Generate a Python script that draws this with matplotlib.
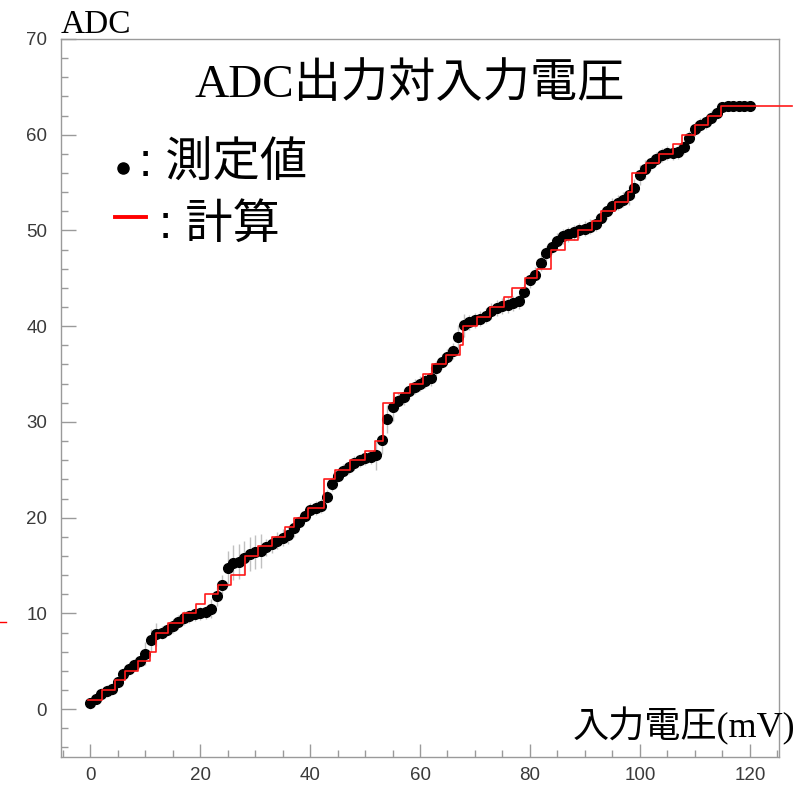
import matplotlib
matplotlib.use("Agg")
import matplotlib.pyplot as plt
import numpy as np
from matplotlib.ticker import MultipleLocator
from matplotlib.lines import Line2D

# measured points: input voltage (mV) and mean ADC code
volt = np.arange(0, 121)
adc_meas = [
    0.6, 1.1, 1.6, 1.9, 2.1, 2.8, 3.7, 4.2, 4.6, 5.0,
    5.8, 7.2, 7.8, 8.0, 8.3, 8.7, 9.1, 9.5, 9.7, 9.9,
    10.0, 10.1, 10.5, 11.8, 13.0, 14.7, 15.3, 15.4, 15.8, 16.2,
    16.4, 16.5, 16.9, 17.2, 17.6, 17.9, 18.2, 18.9, 19.5, 20.2,
    20.8, 21.0, 21.2, 22.2, 23.5, 24.4, 24.9, 25.3, 25.7, 26.0,
    26.2, 26.3, 26.5, 28.1, 30.3, 31.6, 32.2, 32.6, 33.2, 33.7,
    34.0, 34.3, 34.6, 35.6, 36.3, 36.8, 37.4, 38.9, 40.1, 40.4,
    40.6, 40.8, 41.1, 41.6, 41.9, 42.1, 42.2, 42.4, 42.6, 43.6,
    44.8, 45.4, 46.6, 47.6, 48.3, 48.9, 49.4, 49.6, 49.8, 50.0,
    50.2, 50.4, 50.7, 51.3, 52.0, 52.6, 52.9, 53.2, 53.7, 54.4,
    55.8, 56.4, 57.0, 57.5, 57.9, 58.1, 58.1, 58.2, 58.7, 59.7,
    60.6, 61.0, 61.3, 61.8, 62.3, 62.9, 63.0, 63.0, 63.0, 63.0,
    63.0,
]
adc_err = [
    0.6, 0.6, 0.6, 0.6, 0.6, 0.6, 0.6, 0.6, 0.6, 0.6,
    1.2, 1.2, 1.2, 0.7, 0.7, 0.7, 0.7, 0.7, 0.7, 0.7,
    0.7, 0.7, 1.0, 1.0, 1.0, 1.8, 1.8, 1.8, 1.8, 1.8,
    1.8, 1.8, 0.9, 0.9, 0.9, 0.9, 0.9, 0.9, 0.7, 0.7,
    0.7, 0.7, 0.7, 0.7, 0.7, 0.7, 0.7, 0.7, 0.7, 0.7,
    0.7, 0.7, 1.5, 1.5, 1.5, 1.5, 0.8, 0.8, 0.8, 0.8,
    0.8, 0.8, 0.8, 0.8, 0.8, 0.8, 0.8, 1.2, 1.2, 0.8,
    0.8, 0.8, 0.8, 0.8, 0.8, 0.8, 0.8, 0.8, 0.8, 0.8,
    0.8, 0.8, 0.8, 0.8, 0.8, 0.8, 0.8, 0.8, 0.8, 0.8,
    0.8, 0.8, 0.8, 0.8, 0.8, 0.8, 0.8, 0.8, 1.0, 1.0,
    1.0, 1.0, 0.7, 0.7, 0.7, 0.7, 0.7, 0.7, 0.7, 0.7,
    0.7, 0.7, 0.7, 0.7, 0.7, 0.5, 0.5, 0.5, 0.5, 0.5,
    0.5,
]

# computed staircase: voltage (mV) where each code begins
calc_start = [
    -0.3, 2.2, 4.6, 6.4, 8.7, 10.9, 12.0, 14.2, 16.9, 19.2,
    20.9, 23.2, 25.7, 28.1, 30.6, 33.0, 35.5, 37.1, 39.6, 42.5,
    44.5, 47.3, 50.0, 51.8, 53.3, 55.2, 58.1, 60.5, 62.2, 64.7,
    67.3, 67.9, 70.3, 72.7, 75.2, 76.8, 79.1, 81.2, 83.9, 86.4,
    88.8, 91.2, 93.0, 95.5, 97.9, 98.6, 101.1, 103.5, 106.0, 107.6,
    110.0, 112.4, 114.7,
]
calc_code = [
    1, 2, 3, 4, 5, 6, 8, 9, 10, 11,
    12, 13, 14, 16, 17, 18, 19, 20, 21, 24,
    25, 26, 27, 28, 32, 33, 34, 35, 36, 37,
    38, 40, 41, 42, 43, 44, 45, 46, 48, 49,
    50, 51, 52, 53, 54, 56, 57, 58, 59, 60,
    61, 62, 63,
]
calc_end = 127.6

plt.rcParams['font.family'] = ['Liberation Sans', 'Noto Sans CJK JP']
serif_jp = ['Liberation Serif', 'Noto Sans CJK JP']
sans_jp = ['Liberation Sans', 'Noto Sans CJK JP']

W, H = 805, 785
fig = plt.figure(figsize=(W / 100, H / 100), dpi=100)
ax = fig.add_axes([61 / W, 1 - 757 / H, (779 - 61) / W, (757 - 39) / H])

# measured values with error bars
ax.errorbar(volt, adc_meas, yerr=adc_err, fmt='o', color='black', ms=7,
            ecolor='#c0c0c0', elinewidth=1.0, capsize=0, zorder=2)

# computed staircase
xs = calc_start + [calc_end]
ys = calc_code + [calc_code[-1]]
ax.step(xs, ys, where='post', color='#ff1a1a', lw=1.2, zorder=3, clip_on=False)

ax.set_xlim(-5.3, 125.3)
ax.set_ylim(-5, 70)
ax.xaxis.set_major_locator(MultipleLocator(20))
ax.xaxis.set_minor_locator(MultipleLocator(5))
ax.yaxis.set_major_locator(MultipleLocator(10))
ax.yaxis.set_minor_locator(MultipleLocator(2))
gray = '#9a9a9a'
for s in ax.spines.values():
    s.set_color(gray)
    s.set_linewidth(1.0)
ax.tick_params(axis='both', which='both', direction='in', color=gray, width=1.0,
               labelcolor='#3a3a3a', labelsize=13.5)
ax.tick_params(axis='y', which='major', length=11, pad=10)
ax.tick_params(axis='y', which='minor', length=5)
ax.tick_params(axis='x', which='major', length=9.5, pad=7)
ax.tick_params(axis='x', which='minor', length=5)

# texts
fig.text(61 / W, 1 - 33 / H, 'ADC', family=serif_jp, fontsize=24, va='baseline', ha='left')
fig.text(410 / W, 1 - 97 / H, 'ADC出力対入力電圧', family=serif_jp, fontsize=34,
         va='baseline', ha='center')
fig.text(795 / W, 1 - 737 / H, '入力電圧(mV)', family=serif_jp, fontsize=26,
         va='baseline', ha='right')

# hand-made legend
fig.add_artist(Line2D([123 / W], [1 - 168 / H], marker='o', color='black', ms=8))
fig.text(139 / W, 1 - 177 / H, ': 測定値', family=sans_jp, fontsize=34, va='baseline')
fig.add_artist(Line2D([115 / W, 146 / W], [1 - 217 / H] * 2, color='red', lw=2.8))
fig.text(159 / W, 1 - 238 / H, ': 計算', family=sans_jp, fontsize=34, va='baseline')
fig.add_artist(Line2D([0, 6 / W], [1 - 622 / H] * 2, color='red', lw=1.0))

fig.savefig('out.png', dpi=100)
